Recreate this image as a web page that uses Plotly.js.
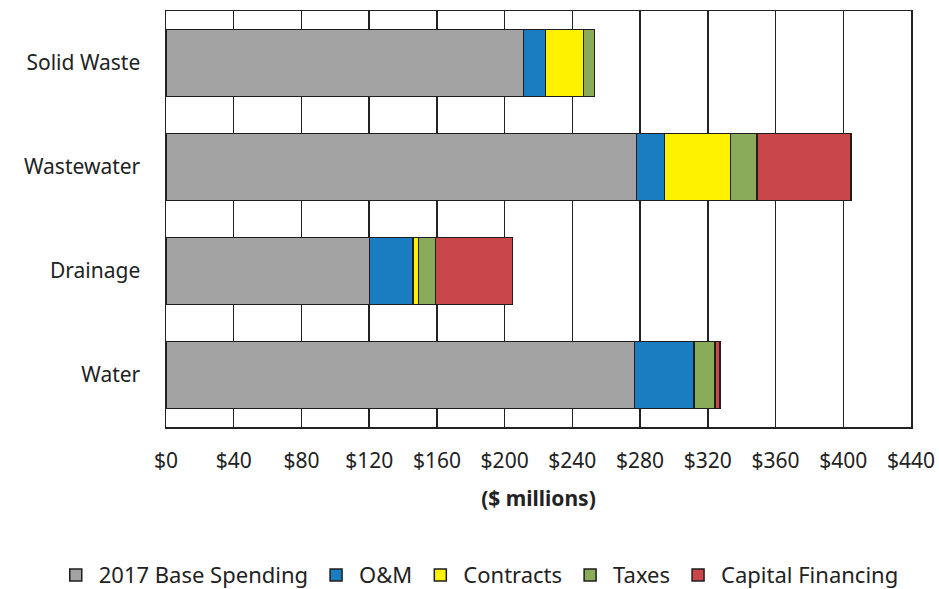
<!DOCTYPE html>
<html>
<head>
<meta charset="utf-8">
<script src="https://cdn.plot.ly/plotly-3.0.1.min.js"></script>
<style>html,body{margin:0;padding:0;background:#fff;}#chart{width:939px;height:589px;}</style>
</head>
<body>
<div id="chart"></div>
<script>
// Categories listed top to bottom
const categories = ['Solid Waste', 'Wastewater', 'Drainage', 'Water'];
const seriesNames = ['2017 Base Spending', 'O&M', 'Contracts', 'Taxes', 'Capital Financing'];
const baseSpending     = [211, 278, 120.3, 276.7];
const oandm            = [13, 16.5, 25.7, 35.2];
const contracts        = [22.5, 39, 3, 0];
const taxes            = [6.5, 15.5, 10.2, 12.2];
const capitalFinancing = [0, 55.5, 45.4, 3];
const xTickValues = [0, 40, 80, 120, 160, 200, 240, 280, 320, 360, 400, 440];
const xTickLabels = ['$0', '$40', '$80', '$120', '$160', '$200', '$240', '$280', '$320', '$360', '$400', '$440'];

const seriesValues = [baseSpending, oandm, contracts, taxes, capitalFinancing];
const colors = ['#a3a3a3', '#1a7dc2', '#fff200', '#8aab5a', '#c9464b'];

const traces = seriesNames.map((name, i) => ({
  type: 'bar',
  orientation: 'h',
  name: name,
  y: categories,
  x: seriesValues[i],
  marker: {color: colors[i], line: {color: '#1e1e1e', width: 1.5}},
  hoverinfo: 'x+y+name'
}));

const font = {family: 'Noto Sans, Open Sans, sans-serif', size: 21, color: '#222'};
const legendFont = {family: 'Noto Sans, Open Sans, sans-serif', size: 22, color: '#222'};

const layout = {
  width: 939, height: 589,
  margin: {l: 166, r: 28, t: 11, b: 162, autoexpand: false},
  paper_bgcolor: '#fff', plot_bgcolor: '#fff',
  barmode: 'stack',
  bargap: 0.355,
  font: font,
  showlegend: true,
  legend: {
    orientation: 'h', traceorder: 'normal',
    x: -0.152, xanchor: 'left', y: -0.356, yanchor: 'middle',
    font: legendFont, itemwidth: 36
  },
  xaxis: {
    range: [0, 440],
    tickvals: xTickValues, ticktext: xTickLabels,
    showgrid: true, gridcolor: '#222', gridwidth: 1.5,
    showline: true, linecolor: '#222', linewidth: 1.5, mirror: true,
    zeroline: false, ticks: '',
    ticklabelstandoff: 14,
    tickfont: font,
    title: {text: '<b>($ millions)</b>', font: font, standoff: 18}
  },
  yaxis: {
    type: 'category',
    autorange: 'reversed',
    showgrid: false,
    showline: true, linecolor: '#222', linewidth: 1.5, mirror: true,
    ticks: '', ticklabelstandoff: 20,
    tickfont: font
  }
};

Plotly.newPlot('chart', traces, layout, {displayModeBar: false, staticPlot: true});
</script>
</body>
</html>
